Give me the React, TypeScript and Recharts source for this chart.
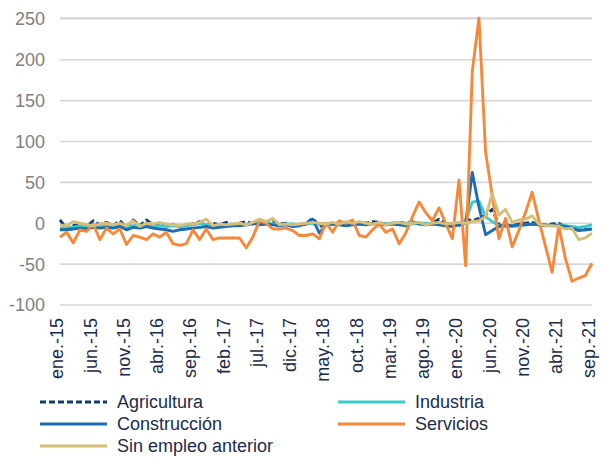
import React from 'react';
import { LineChart, Line, XAxis, YAxis, CartesianGrid, Legend } from 'recharts';

// monthly labels ene.-15 .. sep.-21
const MONTHS = ['ene', 'feb', 'mar', 'abr', 'may', 'jun', 'jul', 'ago', 'sep', 'oct', 'nov', 'dic'];
const YEARS = ['15', '16', '17', '18', '19', '20', '21'];
const categories = YEARS.flatMap(y => MONTHS.map(m => `${m}.-${y}`)).slice(0, 81);

const agricultura = [
  4, -7, -3, -1, -4, 3, -2, 1, -3, 3, -5, 4, -3, 4, -2, -1, -3, -2, -4, -2,
  -1, 2, -3, 0, -2, 1, -2, 0, 2, -1, 4, 1, 3, -1, 0, -3, -2, 0, 6, -4,
  0, -1, 1, 0, -1, 1, 0, 2, 1, -1, 0, 1, 0, 1, 0, -1, 0, 5, 0, -1,
  -3, 5, 3, 6, 10, 17, -2, -4, -3, -1, 0, 1, -1, -2, -1, 0, -5, -7, -8, -8,
  -7,
];
const industria = [
  -6, -5, -5, -3, -3, -2, -3, -2, -3, -2, -4, -3, -2, -3, -4, -3, -4, -3, -4, -3,
  -2, 0, -2, -3, -3, -2, -2, -1, -2, 0, 1, 0, -1, -2, -1, -1, -2, -1, 0, -1,
  -1, 0, -1, -1, 0, -1, 0, -1, 0, -1, 0, -1, 0, -1, 0, 0, -1, 0, -1, 0,
  0, 3, 26, 27, 8, 2, -3, -4, -4, -3, -2, -1, -2, -2, -3, -2, -3, -4, -5, -4,
  -2,
];
const construccion = [
  -8, -8, -7, -6, -7, -5, -6, -5, -6, -4, -8, -5, -6, -4, -6, -7, -8, -10, -8, -7,
  -6, -5, -4, -6, -5, -4, -3, -3, -2, 0, -2, -1, -2, -3, -2, -4, -3, -1, 5, -12,
  -2, -1, -2, -3, -2, -1, -2, 0, -1, -2, -1, -2, -3, 2, -1, -2, -1, -2, -3, -4,
  -2, 0, 62, 20, -14, -9, -4, -2, -3, -2, -2, -1, -2, -3, -2, -3, -4, -6, -9, -8,
  -7,
];
const servicios = [
  -17, -11, -24, -8, -10, -1, -20, -6, -13, -7, -26, -15, -17, -20, -13, -17, -11, -25, -27, -25,
  -8, -20, -7, -20, -18, -18, -18, -18, -30, -17, 3, 0, -7, -7, -6, -9, -15, -15, -13, -19,
  0, -11, 3, 0, 4, -15, -17, -8, -1, -11, -7, -25, -12, 8, 26, 13, 3, 19, 0, -19,
  53, -52, 186, 251, 87, 34, -19, 6, -29, -9, 13, 38, 4, -28, -60, -3, -43, -71, -67, -64,
  -49,
];
const sinEmpleo = [
  -2, -3, 2, 0, -2, -3, -1, 0, -2, 0, -3, 3, -4, 0, -1, 1, -1, -2, -3, -1,
  -1, 1, 5, -3, -1, -2, -1, 0, -2, 1, 5, 2, 6, -2, -1, -2, -1, 0, 1, 0,
  -1, 1, -1, 2, 0, 2, 0, -1, 1, -2, 0, 1, -1, 0, 1, -2, 0, 1, -1, 0,
  1, 0, 2, 3, 8, 36, 10, 17, 1, 4, 5, 9, -1, -3, -3, -4, -7, -6, -20, -18,
  -12,
];

const yTicks = [-100, -50, 0, 50, 100, 150, 200, 250];

const series = [
  { key: 'agricultura', name: 'Agricultura', color: '#0F3F73', dash: '6 3' },
  { key: 'industria', name: 'Industria', color: '#3CCBCB' },
  { key: 'construccion', name: 'Construcción', color: '#1B6DB4' },
  { key: 'servicios', name: 'Servicios', color: '#F7883A' },
  { key: 'sinEmpleo', name: 'Sin empleo anterior', color: '#D6BE78' },
];

const data = categories.map((mes, i) => ({
  mes,
  agricultura: agricultura[i],
  industria: industria[i],
  construccion: construccion[i],
  servicios: servicios[i],
  sinEmpleo: sinEmpleo[i],
}));

const FONT = '"Liberation Sans", Arial, sans-serif';
const TEXT = '#1C2B4A';

const XTick = (props: any) => {
  const { x, y, payload } = props;
  const ay = y + 5;
  return (
    <text
      x={x - 3}
      y={ay}
      dy="0.35em"
      transform={`rotate(-90, ${x - 3}, ${ay})`}
      textAnchor="end"
      fill={TEXT}
      fontSize={18}
      fontFamily={FONT}
    >
      {payload.value}
    </text>
  );
};

const LegendBox = () => {
  const item = (s: any) => (
    <div key={s.key} style={{ display: 'flex', alignItems: 'center', height: 22 }}>
      <svg width={68} height={10} style={{ marginRight: 9 }}>
        <line x1={0} y1={5} x2={67} y2={5} stroke={s.color} strokeWidth={3} strokeDasharray={s.dash} />
      </svg>
      <span style={{ fontSize: 18, fontFamily: FONT, color: TEXT }}>{s.name}</span>
    </div>
  );
  return (
    <div style={{ display: 'grid', gridTemplateColumns: '298px 260px', paddingLeft: 40, paddingTop: 3 }}>
      {item(series[0])}
      {item(series[1])}
      {item(series[2])}
      {item(series[3])}
      {item(series[4])}
    </div>
  );
};

export default function App() {
  return (
    <div style={{ position: 'absolute', left: 0, top: 0, background: '#fff' }}>
      <LineChart width={603} height={457} data={data} margin={{ top: 18, right: 11, bottom: 0, left: 0 }}>
        <CartesianGrid vertical={false} stroke="#D6D6D6" strokeWidth={1.6} />
        <XAxis
          dataKey="mes"
          interval={4}
          tick={<XTick />}
          tickLine={false}
          axisLine={false}
          height={83}
        />
        <YAxis
          domain={[-100, 250]}
          ticks={yTicks}
          width={60}
          tickLine={false}
          axisLine={false}
          tickMargin={9}
          tick={{ fill: '#7F7F7F', fontSize: 18, fontFamily: FONT }}
          interval={0}
        />
        <Legend
          verticalAlign="bottom"
          content={<LegendBox />}
          wrapperStyle={{ height: 69, width: 603, left: 0 }}
        />
        {series.map(s => (
          <Line
            key={s.key}
            dataKey={s.key}
            name={s.name}
            stroke={s.color}
            strokeWidth={2.9}
            strokeDasharray={s.dash}
            strokeLinejoin="round"
            dot={false}
            isAnimationActive={false}
          />
        ))}
      </LineChart>
    </div>
  );
}
